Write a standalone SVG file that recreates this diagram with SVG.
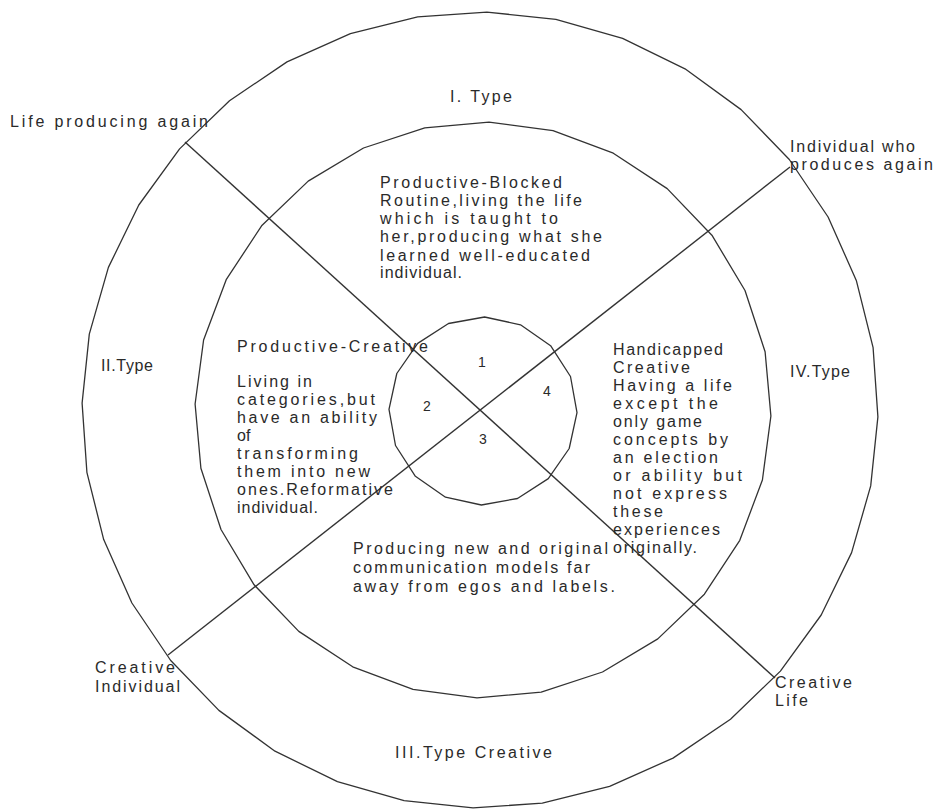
<svg xmlns="http://www.w3.org/2000/svg" width="936" height="810" viewBox="0 0 936 810">
<style>
.ring{fill:none;stroke:#333;stroke-width:1.3;stroke-linejoin:round}
.ln{stroke:#333;stroke-width:1.4;fill:none}
text{font-family:"Liberation Sans","DejaVu Sans",sans-serif;font-size:16px;fill:#2a2a2a}
.n{font-size:14px}
</style>
<rect width="936" height="810" fill="#fff"/>
<g id="rings">
<polygon id="outer" class="ring" points="877.9,416.9 870.7,485.9 851.6,552.6 821.2,615 780.4,671.1 730.5,719.3 673,758.1 609.6,786.3 542.3,803.1 473.1,807.9 404.1,800.7 337.4,781.6 275,751.2 218.9,710.4 170.7,660.5 131.9,603 103.7,539.6 86.9,472.3 82.1,403.1 89.3,334.1 108.4,267.4 138.8,205 179.6,148.9 229.5,100.7 287,61.9 350.4,33.7 417.7,16.9 486.9,12.1 555.9,19.3 622.6,38.4 685,68.8 741.1,109.6 789.3,159.5 828.1,217 856.3,280.4 873.1,347.7"/>
<polygon id="middle" class="ring" points="770.9,416 762.4,480 739.8,540.3 704.4,594.2 657.8,638.9 602.5,672 541.2,692.1 477,697.9 413,689.4 352.7,666.8 298.8,631.4 254.1,584.8 221,529.5 200.9,468.2 195.1,404 203.6,340 226.2,279.7 261.6,225.8 308.2,181.1 363.5,148 424.8,127.9 489,122.1 553,130.6 613.3,153.2 667.2,188.6 711.9,235.2 745,290.5 765.1,351.8"/>
<polygon id="inner" class="ring" points="577,412.6 569.2,448.5 548.3,478.6 517.5,498.5 481.4,505 445.5,497.2 415.4,476.3 395.5,445.5 389,409.4 396.8,373.5 417.7,343.4 448.5,323.5 484.6,317 520.5,324.8 550.6,345.7 570.5,376.5"/>
</g>
<g id="connectors">
<line class="ln" x1="185" y1="142" x2="775" y2="678"/>
<line class="ln" x1="790" y1="167" x2="168" y2="655"/>
</g>
<g id="outer-labels">
<text x="10" y="127" textLength="198" lengthAdjust="spacing">Life producing again</text>
<text x="790" y="152" textLength="125" lengthAdjust="spacing">Individual who</text>
<text x="790" y="170" textLength="143" lengthAdjust="spacing">produces again</text>
<text x="95" y="673" textLength="80" lengthAdjust="spacing">Creative</text>
<text x="95" y="692" textLength="85" lengthAdjust="spacing">Individual</text>
<text x="775" y="688" textLength="77" lengthAdjust="spacing">Creative</text>
<text x="775" y="706" textLength="33" lengthAdjust="spacing">Life</text>
</g>
<g id="type-labels">
<text x="450" y="102" textLength="62" lengthAdjust="spacing">I. Type</text>
<text x="101" y="371" textLength="52" lengthAdjust="spacing">II.Type</text>
<text x="790" y="377" textLength="60" lengthAdjust="spacing">IV.Type</text>
<text x="395" y="758" textLength="157" lengthAdjust="spacing">III.Type Creative</text>
</g>
<g id="type1-text">
<text x="380" y="188" textLength="182" lengthAdjust="spacing">Productive-Blocked</text>
<text x="380" y="206" textLength="202" lengthAdjust="spacing">Routine,living the life</text>
<text x="380" y="224" textLength="178" lengthAdjust="spacing">which is taught to</text>
<text x="380" y="242" textLength="222" lengthAdjust="spacing">her,producing what she</text>
<text x="380" y="261" textLength="210" lengthAdjust="spacing">learned well-educated</text>
<text x="380" y="278" textLength="82" lengthAdjust="spacing">individual.</text>
</g>
<g id="type2-text">
<text x="237" y="352" textLength="191" lengthAdjust="spacing">Productive-Creative</text>
<text x="237" y="387" textLength="75" lengthAdjust="spacing">Living in</text>
<text x="237" y="405" textLength="138" lengthAdjust="spacing">categories,but</text>
<text x="237" y="423" textLength="140" lengthAdjust="spacing">have an ability</text>
<text x="237" y="441">of</text>
<text x="237" y="459" textLength="121" lengthAdjust="spacing">transforming</text>
<text x="237" y="477" textLength="133" lengthAdjust="spacing">them into new</text>
<text x="237" y="495" textLength="156" lengthAdjust="spacing">ones.Reformative</text>
<text x="237" y="513" textLength="81" lengthAdjust="spacing">individual.</text>
</g>
<g id="type4-text">
<text x="613" y="355" textLength="110" lengthAdjust="spacing">Handicapped</text>
<text x="613" y="373" textLength="77" lengthAdjust="spacing">Creative</text>
<text x="613" y="391" textLength="119" lengthAdjust="spacing">Having a life</text>
<text x="613" y="409" textLength="105" lengthAdjust="spacing">except the</text>
<text x="613" y="427" textLength="89" lengthAdjust="spacing">only game</text>
<text x="613" y="445" textLength="115" lengthAdjust="spacing">concepts by</text>
<text x="613" y="463" textLength="105" lengthAdjust="spacing">an election</text>
<text x="613" y="481" textLength="129" lengthAdjust="spacing">or ability but</text>
<text x="613" y="499" textLength="114" lengthAdjust="spacing">not express</text>
<text x="613" y="517" textLength="50" lengthAdjust="spacing">these</text>
<text x="613" y="535" textLength="107" lengthAdjust="spacing">experiences</text>
<text x="613" y="553" textLength="84" lengthAdjust="spacing">originally.</text>
</g>
<g id="type3-text">
<text x="353" y="554" textLength="255" lengthAdjust="spacing">Producing new and original</text>
<text x="353" y="573" textLength="237" lengthAdjust="spacing">communication models far</text>
<text x="353" y="592" textLength="262" lengthAdjust="spacing">away from egos and labels.</text>
</g>
<g id="numbers">
<text class="n" x="482" y="367" text-anchor="middle">1</text>
<text class="n" x="427" y="411" text-anchor="middle">2</text>
<text class="n" x="483" y="444" text-anchor="middle">3</text>
<text class="n" x="547" y="396" text-anchor="middle">4</text>
</g>
</svg>
